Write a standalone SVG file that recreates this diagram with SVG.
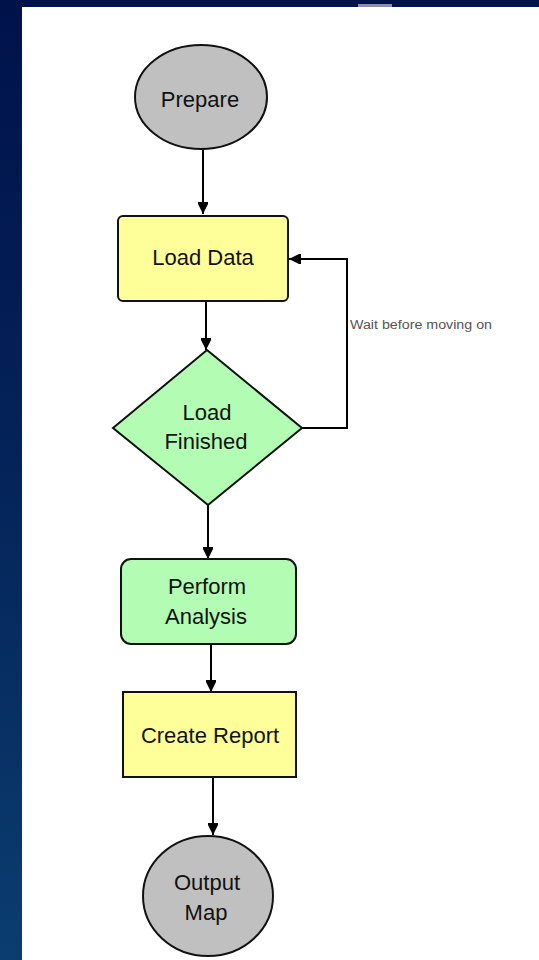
<svg xmlns="http://www.w3.org/2000/svg" width="539" height="960" viewBox="0 0 539 960">
  <defs>
    <linearGradient id="bg" x1="0" y1="0" x2="0" y2="1">
      <stop offset="0" stop-color="#00124a"/>
      <stop offset="0.5" stop-color="#04245a"/>
      <stop offset="1" stop-color="#0b3d70"/>
    </linearGradient>
    <marker id="arr" viewBox="0 -6 13 12" refX="12" refY="0" markerWidth="13" markerHeight="12" markerUnits="userSpaceOnUse" orient="auto">
      <path d="M0,-5 L2,-5 L12,0 L2,5 L0,5 z" fill="#000"/>
    </marker>
    <style>
      .shape { stroke: #111; stroke-width: 2; }
      .grey { fill: #c0c0c0; }
      .yellow { fill: #ffff99; }
      .green { fill: #b3fcb3; }
      .lbl { font-family: "Liberation Sans", Arial, sans-serif; font-size: 22px; fill: #111; text-anchor: middle; dominant-baseline: central; }
      .edge { fill: none; stroke: #000; stroke-width: 2; marker-end: url(#arr); }
      .elbl { font-family: "Liberation Sans", Arial, sans-serif; font-size: 12px; fill: #555; }
    </style>
  </defs>
  <rect x="0" y="0" width="539" height="960" fill="url(#bg)"/>
  <rect x="22" y="7" width="517" height="953" fill="#ffffff"/>
  <rect x="358" y="4" width="34" height="3" fill="#8a8fb0"/>

  <g id="connectors">
    <path class="edge" d="M203,149 L203,214"/>
    <path class="edge" d="M206,301 L206,350"/>
    <path class="edge" d="M208,505 L208,559"/>
    <path class="edge" d="M211,644 L211,692"/>
    <path class="edge" d="M213,777 L213,835"/>
    <path class="edge" d="M302,428 L347,428 L347,259 L289,259"/>
    <text class="elbl" x="350" y="329" textLength="142" lengthAdjust="spacingAndGlyphs">Wait before moving on</text>
  </g>

  <g id="prepare">
    <ellipse class="shape grey" cx="201" cy="97" rx="66" ry="52"/>
    <text class="lbl" x="200" y="99">Prepare</text>
  </g>

  <g id="load-data">
    <rect class="shape yellow" x="118" y="216" width="170" height="85" rx="5"/>
    <text class="lbl" x="203" y="257">Load Data</text>
  </g>

  <g id="load-finished">
    <polygon class="shape green" points="207,350 302,428 208,505 113,428"/>
    <text class="lbl" x="207" y="412">Load</text>
    <text class="lbl" x="206" y="441">Finished</text>
  </g>

  <g id="perform-analysis">
    <rect class="shape green" x="121" y="559" width="175" height="85" rx="10"/>
    <text class="lbl" x="207" y="586">Perform</text>
    <text class="lbl" x="206" y="616">Analysis</text>
  </g>

  <g id="create-report">
    <rect class="shape yellow" x="123" y="692" width="173" height="85"/>
    <text class="lbl" x="210" y="735">Create Report</text>
  </g>

  <g id="output-map">
    <ellipse class="shape grey" cx="208" cy="896" rx="65" ry="60"/>
    <text class="lbl" x="207" y="882">Output</text>
    <text class="lbl" x="206" y="912">Map</text>
  </g>
</svg>
